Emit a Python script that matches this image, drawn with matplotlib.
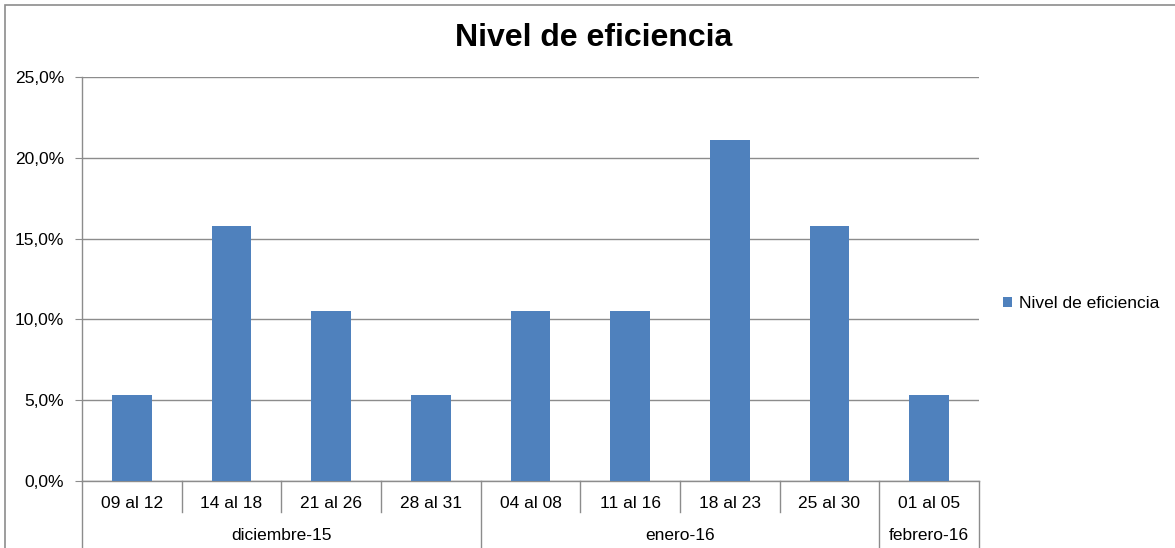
import matplotlib
matplotlib.use('Agg')
import matplotlib.pyplot as plt
import matplotlib.transforms as mtrans
from matplotlib.ticker import FuncFormatter
from matplotlib.patches import Rectangle

# datos del grafico (porcentaje)
semanas = ['09 al 12', '14 al 18', '21 al 26', '28 al 31',
           '04 al 08', '11 al 16', '18 al 23', '25 al 30', '01 al 05']
eficiencia = [5.3, 15.8, 10.5, 5.3, 10.5, 10.5, 21.1, 15.8, 5.3]
meses = ['diciembre-15', 'enero-16', 'febrero-16']
semanas_por_mes = [4, 4, 1]

plt.rcParams['font.family'] = ['Liberation Sans', 'DejaVu Sans']

W, H = 1175, 548
gris = '#8c8c8c'
azul = '#4f81bd'

fig = plt.figure(figsize=(W / 100, H / 100), dpi=100)
ax = fig.add_axes([82 / W, (H - 481) / H, (979 - 82) / W, (481 - 77) / H])

x = list(range(len(semanas)))
ax.bar(x, [v / 100 for v in eficiencia], width=0.4, color=azul,
       label='Nivel de eficiencia', zorder=3)

ax.set_xlim(-0.5, len(semanas) - 0.5)
ax.set_ylim(0, 0.25)
ax.set_yticks([0, 0.05, 0.10, 0.15, 0.20, 0.25])
ax.yaxis.set_major_formatter(FuncFormatter(lambda v, p: f'{v * 100:.1f}%'.replace('.', ',')))
ax.grid(axis='y', color=gris, linewidth=1, zorder=0)
ax.tick_params(axis='y', length=5, color=gris, pad=8, labelsize=12.5)
ax.set_xticks([])

for s in ['top', 'right']:
    ax.spines[s].set_visible(False)
for s in ['left', 'bottom']:
    ax.spines[s].set_color(gris)
    ax.spines[s].set_linewidth(1)

# eje de categorias en dos niveles
alto = 481 - 77
tr = mtrans.blended_transform_factory(ax.transData, ax.transAxes)
for i, s in enumerate(semanas):
    ax.text(i, -22 / alto, s, transform=tr, ha='center', va='center', fontsize=12.5)

lim = [-0.5]
for n in semanas_por_mes:
    lim.append(lim[-1] + n)
cortes_mes = set(lim)
for k in range(len(semanas) + 1):
    xs = k - 0.5
    fondo = -70 / alto if xs in cortes_mes else -31 / alto
    ax.plot([xs, xs], [0, fondo], transform=tr, color=gris, linewidth=1, clip_on=False)

for m, a, b in zip(meses, lim[:-1], lim[1:]):
    ax.text((a + b) / 2, -55 / alto, m, transform=tr, ha='center', va='center', fontsize=12.5)

fig.text(594 / W, 1 - 38 / H, 'Nivel de eficiencia', ha='center', va='center',
         fontsize=23, fontweight='bold')

fig.legend(loc='center left', bbox_to_anchor=(1003 / W, 1 - 304 / H), frameon=False,
           fontsize=12.5, handlelength=0.5, handleheight=0.5, handletextpad=0.4,
           borderpad=0, borderaxespad=0)

# borde del area del grafico
fig.patches.append(Rectangle((5 / W, -0.1), 1.2, 1 - 5 / H + 0.1, transform=fig.transFigure,
                             fill=False, edgecolor=gris, linewidth=1.2))

fig.savefig('out.png', dpi=100)
